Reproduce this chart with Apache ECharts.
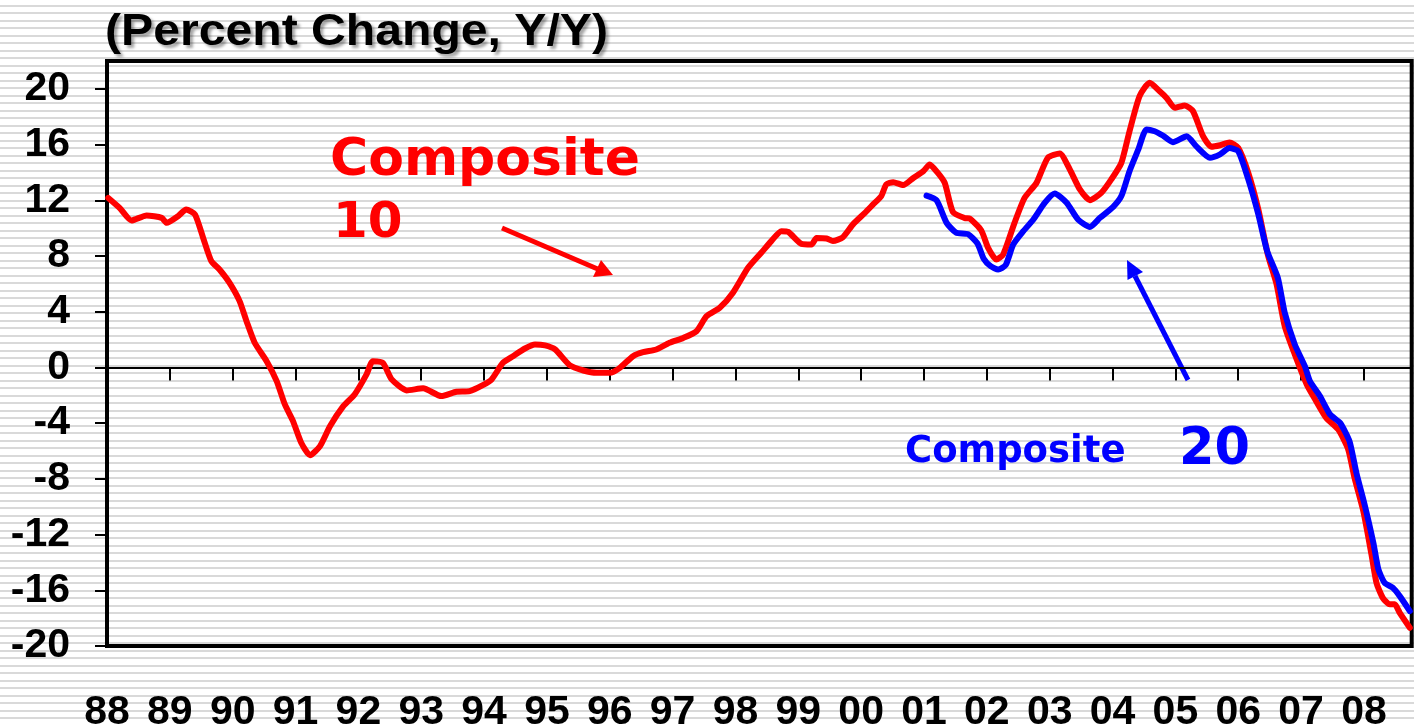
<!DOCTYPE html>
<html><head><meta charset="utf-8">
<script src="https://cdn.jsdelivr.net/npm/echarts@6/dist/echarts.min.js"></script>
<style>
html,body{margin:0;padding:0;}
body{width:1414px;height:725px;overflow:hidden;background:#fff repeating-linear-gradient(to bottom,#fff 0px,#fff 5px,#d9d9d9 5px,#d9d9d9 7px,#fff 7px,#fff 7.5px);}
#chart{width:1414px;height:725px;}
</style></head><body><div id="chart"></div>
<script>
const yearTicks = [1988,1989,1990,1991,1992,1993,1994,1995,1996,1997,1998,1999,2000,2001,2002,2003,2004,2005,2006,2007,2008];
const yearLabels = ['88','89','90','91','92','93','94','95','96','97','98','99','00','01','02','03','04','05','06','07','08'];
const yTicks = [-20,-16,-12,-8,-4,0,4,8,12,16,20];

const comp10Dates = [1988.02,1988.20,1988.39,1988.63,1988.87,1988.95,1989.13,1989.26,1989.40,1989.53,1989.66,1989.79,1989.95,
 1990.11,1990.22,1990.35,1990.54,1990.70,1990.83,1990.96,1991.09,1991.23,1991.39,1991.55,1991.76,1991.94,
 1992.13,1992.23,1992.39,1992.53,1992.77,1993.03,1993.32,1993.56,1993.77,1993.98,1994.12,1994.30,1994.46,1994.65,1994.81,1994.97,
 1995.13,1995.36,1995.58,1995.79,1996.00,1996.16,1996.37,1996.53,1996.74,1996.95,1997.17,1997.38,1997.54,1997.75,1997.96,
 1998.20,1998.41,1998.57,1998.73,1998.84,1999.05,1999.21,1999.29,1999.45,1999.55,1999.71,1999.87,2000.06,2000.19,2000.32,2000.40,
 2000.51,2000.67,2000.83,2000.99,2001.09,2001.22,2001.33,2001.46,2001.65,2001.73,2001.91,2002.02,2002.15,2002.26,2002.44,2002.60,
 2002.79,2002.97,2003.16,2003.32,2003.48,2003.64,2003.82,2003.98,2004.14,2004.27,2004.43,2004.59,2004.75,2004.86,2004.99,2005.15,
 2005.28,2005.44,2005.57,2005.71,2005.86,2006.00,2006.16,2006.32,2006.47,2006.61,2006.74,2006.90,2007.09,2007.24,2007.40,2007.59,
 2007.75,2007.85,2007.99,2008.12,2008.20,2008.30,2008.41,2008.49,2008.57,2008.73];
const comp10Values = [12.17,11.46,10.55,10.91,10.74,10.38,10.86,11.34,10.98,9.3,7.63,7.03,6.07,
 4.76,3.32,1.77,0.45,-0.98,-2.66,-3.86,-5.41,-6.3,-5.65,-4.21,-2.78,-1.94,
 -0.5,0.45,0.33,-0.86,-1.65,-1.5,-2.06,-1.75,-1.7,-1.27,-0.86,0.33,0.81,1.36,1.65,1.58,
 1.29,0.17,-0.22,-0.39,-0.39,-0.03,0.81,1.1,1.29,1.77,2.12,2.6,3.68,4.28,5.36,
 7.15,8.23,9.07,9.78,9.73,8.87,8.83,9.3,9.26,9.07,9.35,10.27,11.1,11.7,12.3,13.14,
 13.3,13.09,13.6,14.09,14.57,13.97,13.25,11.16,10.72,10.68,9.85,8.59,7.75,8.11,10.38,12.17,
 13.25,15.05,15.36,14.21,12.78,12.01,12.53,13.5,14.69,16.96,19.48,20.43,19.83,19.35,18.64,18.81,
 18.4,16.6,15.85,15.95,16.15,15.77,13.97,11.34,8.11,5.96,2.96,0.93,-1.22,-2.42,-3.62,-4.45,
 -5.89,-7.93,-10.32,-13.43,-15.47,-16.54,-17.01,-17.01,-17.62,-18.69];

const comp20Dates = [2001.04,2001.20,2001.36,2001.51,2001.70,2001.85,2001.95,2002.06,2002.18,2002.30,2002.42,2002.58,2002.74,
 2002.92,2003.08,2003.27,2003.45,2003.64,2003.80,2004.01,2004.14,2004.27,2004.41,2004.54,2004.67,2004.80,2004.96,2005.18,
 2005.33,2005.55,2005.71,2005.86,2006.00,2006.16,2006.32,2006.46,2006.63,2006.74,2006.90,2007.06,2007.14,2007.30,2007.46,
 2007.62,2007.77,2007.88,2008.01,2008.15,2008.23,2008.33,2008.46,2008.57,2008.73];
const comp20Values = [12.33,12.0,10.38,9.68,9.57,8.9,7.8,7.27,7.03,7.35,8.83,9.78,10.62,
 11.82,12.49,11.82,10.62,10.09,10.74,11.53,12.3,14.09,15.65,17.09,16.96,16.65,16.17,16.6,
 15.89,15.05,15.3,15.75,15.53,13.5,10.98,8.35,6.43,3.92,1.65,0.09,-0.98,-2.06,-3.37,
 -3.98,-5.29,-7.57,-9.83,-12.59,-14.5,-15.47,-15.82,-16.42,-17.49];

const zip = (a,b) => a.map((d,i)=>[d,b[i]]);
const labelFont = "'Liberation Sans',Arial,sans-serif";
const annFont = "'DejaVu Sans',Verdana,sans-serif";

const chart = echarts.init(document.getElementById('chart'), null, {renderer:'canvas'});
chart.setOption({
  animation:false,
  backgroundColor:'transparent',
  grid:{left:107,right:2.3,top:61,bottom:79,show:true,borderColor:'#000',borderWidth:4,backgroundColor:'transparent',
        containLabel:false,outerBoundsMode:'none'},
  xAxis:[{
    type:'value',min:1988,max:2008.76,interval:1,
    axisLine:{show:true,onZero:true,lineStyle:{color:'#000',width:2}},
    axisTick:{show:true,inside:false,length:13,lineStyle:{color:'#000',width:2},customValues:yearTicks.slice(1)},
    axisLabel:{show:false},splitLine:{show:false}
  },{
    type:'value',min:1988,max:2008.76,interval:1,position:'bottom',
    axisLine:{show:false,onZero:false},axisTick:{show:false},splitLine:{show:false},
    axisLabel:{show:true,customValues:yearTicks,margin:46,color:'#000',fontWeight:'bold',fontSize:41,fontFamily:labelFont,
      formatter:v=>{const i=yearTicks.indexOf(Math.round(v));return i>=0?yearLabels[i]:'';}}
  }],
  yAxis:{
    type:'value',min:-20,max:22,
    axisLine:{show:false},
    axisTick:{show:true,inside:false,length:12,lineStyle:{color:'#000',width:2},customValues:yTicks},
    axisLabel:{show:true,customValues:yTicks,margin:37,color:'#000',fontWeight:'bold',fontSize:41,fontFamily:labelFont},
    splitLine:{show:false}
  },
  series:[
    {name:'Composite 10',type:'line',xAxisIndex:0,data:zip(comp10Dates,comp10Values),showSymbol:false,smooth:0.2,
     lineStyle:{color:'#ff0000',width:6,join:'round',cap:'round'},z:3},
    {name:'Composite 20',type:'line',xAxisIndex:0,data:zip(comp20Dates,comp20Values),showSymbol:false,smooth:0.2,
     lineStyle:{color:'#0000ff',width:6,join:'round',cap:'round'},z:4}
  ],
  graphic:[
    {type:'text',x:105,y:33,scaleX:1.07,style:{text:'(Percent Change, Y/Y)',fill:'#000',font:"bold 45px 'Liberation Sans',Arial,sans-serif",
      align:'left',verticalAlign:'middle',textShadowColor:'rgba(0,0,0,0.35)',textShadowBlur:3,textShadowOffsetX:3,textShadowOffsetY:3}},
    {type:'text',x:330,y:161,style:{text:'Composite',fill:'#ff0000',font:"bold 52px "+annFont,align:'left',verticalAlign:'middle'}},
    {type:'text',x:333,y:224,style:{text:'10',fill:'#ff0000',font:"bold 50px "+annFont,align:'left',verticalAlign:'middle'}},
    {type:'line',shape:{x1:502,y1:228,x2:600,y2:270},style:{stroke:'#ff0000',lineWidth:5}},
    {type:'polygon',shape:{points:[[613,275],[601,260],[593,277]]},style:{fill:'#ff0000'}},
    {type:'text',x:905,y:452,style:{text:'Composite',fill:'#0000ff',font:"bold 37px "+annFont,align:'left',verticalAlign:'middle'}},
    {type:'text',x:1179,y:451,style:{text:'20',fill:'#0000ff',font:"bold 51px "+annFont,align:'left',verticalAlign:'middle'}},
    {type:'line',shape:{x1:1188,y1:380,x2:1135,y2:276},style:{stroke:'#0000ff',lineWidth:5}},
    {type:'polygon',shape:{points:[[1127,260],[1143,272],[1127.5,280]]},style:{fill:'#0000ff'}}
  ]
});
</script></body></html>
